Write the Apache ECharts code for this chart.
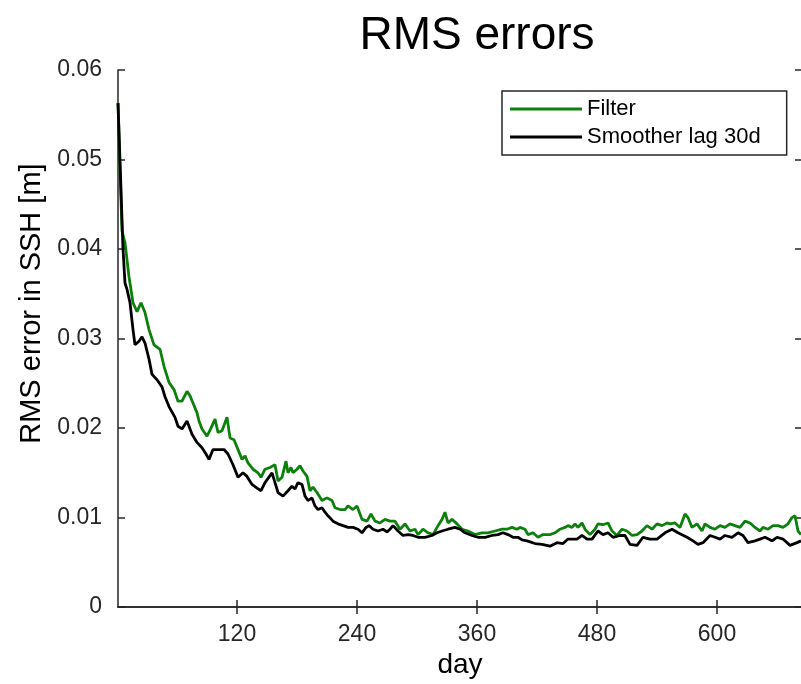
<!DOCTYPE html>
<html>
<head>
<meta charset="utf-8">
<title>RMS errors</title>
<script src="https://cdn.jsdelivr.net/npm/echarts@6/dist/echarts.min.js"></script>
<style>
  html, body { margin: 0; padding: 0; background: #fff; overflow: hidden; }
  #chart { width: 804px; height: 684px; }
</style>
</head>
<body>
<div id="chart"></div>
<script>
// Filter RMS error, day / value pairs
const filterDays = [1,3,5,8,12,16,20,24,28,32,37,43,47,52,57,61,65,70,73,76,80,82,85,90,94,98,101,105,110,113,117,121,125,128,131,136,141,144,148,153,158,161,165,169,171,174,176,180,183,186,190,193,196,200,205,210,215,218,223,228,231,236,240,245,250,254,258,263,268,273,278,283,288,293,298,301,306,311,316,321,325,328,331,335,340,345,351,358,365,371,378,385,390,395,400,403,408,411,416,421,426,433,438,443,448,451,455,458,461,465,468,473,478,481,486,491,495,500,505,510,515,520,525,530,535,540,545,550,553,558,563,568,571,575,580,585,588,593,598,603,608,613,618,623,628,633,638,643,646,651,656,661,666,671,675,678,681,684];
const filterRms = [0.0563,0.049,0.042,0.0407,0.0369,0.034,0.033,0.034,0.0329,0.031,0.0293,0.0288,0.0269,0.0251,0.0243,0.023,0.023,0.0241,0.0236,0.0228,0.0217,0.0208,0.0199,0.0191,0.02,0.021,0.0195,0.0197,0.0212,0.0189,0.0187,0.0176,0.0165,0.0169,0.0161,0.0154,0.015,0.0145,0.0154,0.0156,0.0159,0.0141,0.0145,0.0163,0.015,0.0156,0.015,0.0154,0.0158,0.0152,0.0146,0.013,0.0134,0.0128,0.0119,0.0122,0.0119,0.0111,0.0109,0.0109,0.0113,0.0109,0.0113,0.0098,0.0096,0.0104,0.0096,0.0094,0.0098,0.0096,0.0096,0.0087,0.0093,0.0085,0.0087,0.0081,0.0087,0.0083,0.0081,0.0091,0.0098,0.0106,0.0094,0.0098,0.0093,0.0087,0.0085,0.0081,0.0083,0.0083,0.0085,0.0087,0.0087,0.0089,0.0087,0.0089,0.0087,0.0081,0.0083,0.0078,0.0081,0.0081,0.0083,0.0087,0.0089,0.0091,0.0089,0.0093,0.0089,0.0094,0.0087,0.0081,0.0087,0.0093,0.0092,0.0094,0.0085,0.008,0.0087,0.0085,0.008,0.0081,0.0085,0.0091,0.0087,0.0093,0.0091,0.0094,0.0093,0.0094,0.0089,0.0104,0.01,0.0089,0.0093,0.0085,0.0093,0.0089,0.0087,0.0091,0.0089,0.0093,0.0091,0.0089,0.0096,0.0094,0.0089,0.0085,0.0089,0.0087,0.0091,0.0091,0.0089,0.0093,0.01,0.0102,0.0085,0.0081];

// Smoother (lag 30 days) RMS error, day / value pairs
const smootherDays = [1,4,6,8,10,13,16,18,22,25,28,32,35,40,45,48,52,58,61,65,70,75,80,85,89,92,96,101,107,111,116,121,126,130,135,140,144,148,155,158,161,166,171,175,178,181,185,188,191,195,198,201,205,208,211,216,221,226,231,236,241,245,249,252,256,261,266,270,273,276,281,286,291,296,301,308,315,320,325,331,338,343,348,355,361,368,375,381,386,391,396,401,405,410,418,425,433,440,446,451,460,465,470,475,481,486,491,496,503,508,513,520,526,533,540,548,555,561,570,576,581,586,593,598,603,608,615,621,626,631,638,643,648,655,660,666,673,680,684];
const smootherRms = [0.0563,0.0466,0.040,0.0362,0.0355,0.034,0.031,0.0293,0.0297,0.0302,0.0295,0.0277,0.026,0.0254,0.0246,0.0235,0.0224,0.0212,0.0202,0.0199,0.0208,0.0193,0.0184,0.0178,0.0171,0.0165,0.0176,0.0176,0.0176,0.0171,0.0159,0.0145,0.015,0.0146,0.0137,0.0133,0.013,0.0139,0.015,0.0139,0.0128,0.0124,0.013,0.0135,0.0132,0.0139,0.0137,0.0124,0.0119,0.0122,0.0113,0.0109,0.0111,0.0106,0.0102,0.0096,0.0093,0.0091,0.0089,0.0089,0.0087,0.0083,0.0089,0.0091,0.0087,0.0085,0.0087,0.0084,0.0087,0.0091,0.0085,0.008,0.0081,0.008,0.0078,0.0078,0.008,0.0083,0.0085,0.0087,0.0089,0.0087,0.0083,0.008,0.0078,0.0078,0.008,0.0081,0.0083,0.0081,0.0078,0.0078,0.0075,0.0074,0.0071,0.007,0.0068,0.0072,0.0071,0.0076,0.0076,0.008,0.0076,0.0076,0.0085,0.0081,0.0083,0.0078,0.008,0.008,0.007,0.0069,0.0078,0.0076,0.0076,0.0083,0.0087,0.0083,0.0078,0.0074,0.007,0.0072,0.008,0.0078,0.0076,0.008,0.0078,0.0083,0.008,0.0072,0.0074,0.0076,0.0078,0.0074,0.0078,0.0076,0.0069,0.0072,0.0074];

const dayTicks = [120, 240, 360, 480, 600];
const seriesNames = ['Filter', 'Smoother lag 30d'];

const FONT = '"Liberation Sans", Arial, Helvetica, sans-serif';
const AXIS = '#262626';

function pairs(xs, ys) {
  return xs.map((x, i) => [x, ys[i]]);
}

const chart = echarts.init(document.getElementById('chart'), null, { renderer: 'canvas' });

const tickStyle = { show: true, inside: true, length: 7, lineStyle: { color: AXIS, width: 1.5 } };
const lineStyle = { show: true, lineStyle: { color: AXIS, width: 1.5 } };

chart.setOption({
  animation: false,
  backgroundColor: '#fff',
  textStyle: { fontFamily: FONT },
  title: {
    text: 'RMS errors',
    left: 472,
    textAlign: 'center',
    top: 8,
    textStyle: { fontSize: 46, fontWeight: 'normal', color: '#000', fontFamily: FONT }
  },
  legend: {
    orient: 'vertical',
    left: 502,
    top: 91,
    data: seriesNames,
    icon: 'rect',
    itemWidth: 72,
    itemHeight: 3,
    itemGap: 6,
    padding: [7, 26, 7, 8],
    backgroundColor: '#fff',
    borderColor: AXIS,
    borderWidth: 1.5,
    textStyle: { fontSize: 22, color: '#000', fontFamily: FONT }
  },
  grid: { left: 118, right: 2, top: 70, bottom: 76 },
  xAxis: [
    {
      type: 'value', position: 'bottom', min: 1, max: 685,
      name: 'day', nameLocation: 'middle', nameGap: 42,
      nameTextStyle: { fontSize: 28, color: '#000', fontFamily: FONT },
      axisLine: lineStyle,
      axisTick: Object.assign({ customValues: dayTicks }, tickStyle),
      axisLabel: { customValues: dayTicks, fontSize: 23, color: AXIS, margin: 16, fontFamily: FONT },
      splitLine: { show: false }
    },
    {
      type: 'value', position: 'top', min: 1, max: 685,
      axisLine: lineStyle,
      axisTick: Object.assign({ customValues: dayTicks }, tickStyle),
      axisLabel: { show: false },
      splitLine: { show: false }
    }
  ],
  yAxis: [
    {
      type: 'value', position: 'left', min: 0, max: 0.06, interval: 0.01,
      name: 'RMS error in SSH [m]', nameLocation: 'middle', nameGap: 70,
      nameTextStyle: { fontSize: 29, color: '#000', fontFamily: FONT, padding: [0, 0, 0, 70] },
      axisLine: lineStyle,
      axisTick: tickStyle,
      axisLabel: {
        fontSize: 23, color: AXIS, margin: 16, fontFamily: FONT,
        formatter: v => (v === 0 ? '0' : v.toFixed(2))
      },
      splitLine: { show: false }
    },
    {
      type: 'value', position: 'right', min: 0, max: 0.06, interval: 0.01,
      axisLine: lineStyle,
      axisTick: tickStyle,
      axisLabel: { show: false },
      splitLine: { show: false }
    }
  ],
  series: [
    {
      name: seriesNames[0], type: 'line', xAxisIndex: 0, yAxisIndex: 0,
      data: pairs(filterDays, filterRms),
      showSymbol: false, symbol: 'none',
      itemStyle: { color: '#0b800b' },
      lineStyle: { color: '#0b800b', width: 2.8 }
    },
    {
      name: seriesNames[1], type: 'line', xAxisIndex: 0, yAxisIndex: 0,
      data: pairs(smootherDays, smootherRms),
      showSymbol: false, symbol: 'none',
      itemStyle: { color: '#000' },
      lineStyle: { color: '#000', width: 2.8 }
    }
  ]
});
</script>
</body>
</html>
